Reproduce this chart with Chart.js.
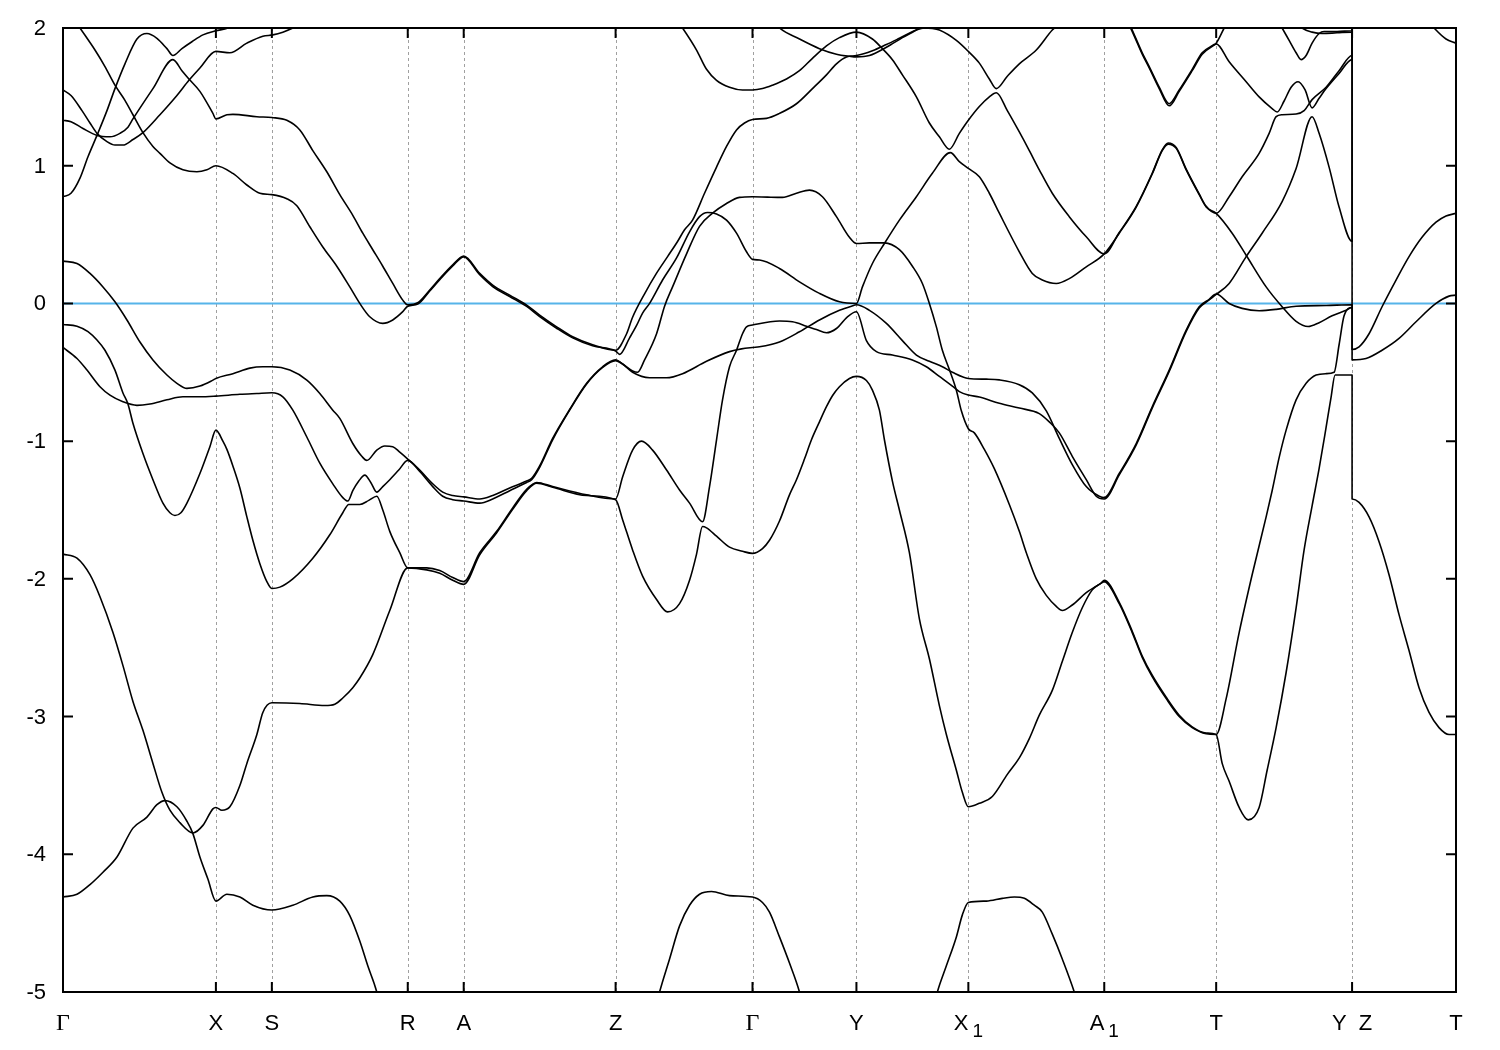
<!DOCTYPE html>
<html>
<head>
<meta charset="utf-8">
<title>Band structure</title>
<script src="https://cdn.jsdelivr.net/npm/chart.js@4.4.1/dist/chart.umd.min.js"></script>
<style>
  html, body { margin: 0; padding: 0; background: #fff; }
</style>
</head>
<body>
<canvas id="bandChart" width="1500" height="1050"></canvas>
<script>
// high-symmetry points along the k-path
const kTicks = [0, 153, 209, 345, 401, 553, 690, 794, 906, 1042, 1154, 1290, 1394];
const kLabels = ['Γ', 'X', 'S', 'R', 'A', 'Z', 'Γ', 'Y', 'X_1', 'A_1', 'T', 'Y  Z', 'T'];
const energyTicks = [2, 1, 0, -1, -2, -3, -4, -5];
const fermiLevel = 0;

// bands as [k, E] pairs
const band01 = [[0,0.775],[8,0.80],[17,0.91],[25,1.065],[34,1.22],[44,1.40],[52,1.56],[62,1.74],[74,1.92],[84,1.96],[94,1.925],[104,1.85],[110,1.80],[119,1.85],[129,1.90],[140,1.95],[153,1.98],[165,2.0],[180,2.08]];
const band02 = [[0,1.33],[8,1.32],[20,1.27],[34,1.22],[47,1.21],[57,1.235],[65,1.28],[70,1.34],[90,1.56],[110,1.77],[119,1.69],[126,1.63],[137,1.54],[150,1.38],[153,1.34],[164,1.37],[170,1.373],[194,1.356],[209,1.35],[224,1.33],[237,1.26],[250,1.11],[264,0.956],[277,0.79],[290,0.64],[300,0.51],[310,0.39],[320,0.27],[330,0.145],[340,0.024],[345,-0.01],[355,0.005],[367,0.097],[377,0.18],[390,0.28],[401,0.344],[417,0.218],[430,0.133],[447,0.06],[464,-0.012],[477,-0.085],[494,-0.17],[510,-0.242],[530,-0.30],[553,-0.34],[564,-0.22],[570,-0.10],[582,0.07],[594,0.22],[605,0.34],[615,0.45],[622,0.535],[630,0.605],[642,0.80],[654,0.99],[664,1.14],[674,1.26],[682,1.31],[690,1.335],[704,1.344],[717,1.38],[734,1.45],[750,1.56],[764,1.66],[774,1.74],[784,1.79],[794,1.80],[810,1.835],[824,1.88],[837,1.925],[854,1.985],[862,2.0],[870,1.997],[877,1.985],[894,1.91],[906,1.83],[917,1.745],[927,1.63],[934,1.56],[945,1.65],[957,1.74],[974,1.84],[990,1.985],[1000,2.05]];
const band03 = [[0,1.55],[8,1.51],[19,1.40],[27,1.31],[34,1.235],[44,1.175],[52,1.15],[60,1.15],[70,1.19],[80,1.24],[97,1.37],[114,1.51],[126,1.62],[137,1.71],[153,1.83],[167,1.82],[184,1.89],[200,1.94],[210,1.95],[220,1.97],[230,2.0],[245,2.06]];
const band04 = [[0,2.18],[17,2.0],[32,1.84],[42,1.72],[52,1.585],[62,1.475],[70,1.37],[80,1.24],[90,1.14],[97,1.09],[107,1.02],[120,0.97],[134,0.956],[144,0.97],[153,1.0],[170,0.944],[184,0.86],[197,0.80],[209,0.79],[224,0.76],[234,0.71],[247,0.557],[260,0.41],[274,0.27],[287,0.12],[297,0.0],[307,-0.097],[320,-0.145],[330,-0.12],[340,-0.06],[345,-0.02],[355,-0.005],[367,0.09],[377,0.172],[390,0.272],[401,0.338],[417,0.208],[430,0.123],[447,0.05],[464,-0.022],[477,-0.095],[494,-0.18],[510,-0.25],[530,-0.308],[553,-0.345],[557,-0.37],[567,-0.25],[574,-0.16],[580,-0.07],[587,0.0],[600,0.17],[614,0.33],[627,0.52],[637,0.63],[645,0.66],[654,0.65],[664,0.605],[674,0.51],[684,0.375],[690,0.32],[697,0.315],[717,0.254],[737,0.157],[757,0.073],[777,0.012],[794,0.0],[800,0.12],[810,0.29],[822,0.435],[837,0.605],[854,0.775],[870,0.945],[888,1.095],[897,1.03],[906,0.98],[917,0.92],[927,0.80],[937,0.655],[957,0.375],[970,0.218],[980,0.17],[994,0.145],[1007,0.18],[1024,0.266],[1042,0.36],[1057,0.51],[1074,0.70],[1090,0.94],[1100,1.11],[1106,1.157],[1114,1.126],[1124,0.97],[1137,0.79],[1144,0.70],[1154,0.654],[1170,0.51],[1184,0.35],[1204,0.12],[1220,-0.024],[1234,-0.13],[1246,-0.168],[1257,-0.14],[1270,-0.09],[1284,-0.05],[1290,-0.03],[1290,2.3]];
const band05 = [[0,0.307],[14,0.29],[27,0.218],[40,0.12],[52,0.012],[64,-0.12],[77,-0.28],[90,-0.41],[104,-0.52],[114,-0.58],[124,-0.617],[137,-0.60],[150,-0.557],[153,-0.545],[170,-0.51],[187,-0.47],[200,-0.46],[209,-0.46],[227,-0.484],[244,-0.557],[257,-0.654],[270,-0.775],[277,-0.835],[290,-1.017],[299,-1.11],[304,-1.14],[314,-1.065],[322,-1.035],[330,-1.04],[337,-1.08],[345,-1.13],[357,-1.21],[370,-1.31],[380,-1.37],[390,-1.395],[401,-1.405],[417,-1.42],[430,-1.395],[447,-1.34],[464,-1.29],[469,-1.27],[477,-1.18],[490,-0.98],[507,-0.77],[524,-0.58],[540,-0.46],[553,-0.41],[560,-0.44],[570,-0.49],[575,-0.50],[582,-0.41],[594,-0.22],[602,-0.02],[610,0.12],[624,0.36],[637,0.56],[650,0.655],[664,0.726],[677,0.77],[690,0.775],[705,0.772],[720,0.77],[734,0.80],[747,0.823],[760,0.775],[774,0.63],[787,0.48],[794,0.435],[807,0.44],[822,0.44],[837,0.39],[850,0.27],[860,0.145],[867,0.0],[874,-0.17],[880,-0.34],[887,-0.48],[894,-0.63],[899,-0.78],[906,-0.91],[912,-0.94],[922,-1.06],[932,-1.20],[947,-1.46],[957,-1.655],[964,-1.81],[974,-2.0],[984,-2.12],[994,-2.20],[1000,-2.23],[1010,-2.19],[1024,-2.10],[1037,-2.04],[1042,-2.02],[1057,-2.18],[1070,-2.39],[1080,-2.57],[1090,-2.71],[1104,-2.87],[1117,-3.0],[1130,-3.08],[1144,-3.125],[1154,-3.13],[1164,-2.87],[1177,-2.39],[1190,-1.97],[1204,-1.55],[1210,-1.36],[1217,-1.12],[1224,-0.92],[1234,-0.70],[1244,-0.58],[1254,-0.52],[1264,-0.51],[1272,-0.50],[1277,-0.30],[1282,-0.09],[1290,-0.03],[1290,-0.41],[1304,-0.40],[1320,-0.34],[1337,-0.254],[1354,-0.133],[1374,0.0],[1387,0.053],[1394,0.06]];
const band06 = [[0,-0.32],[14,-0.40],[24,-0.484],[37,-0.605],[47,-0.666],[60,-0.714],[74,-0.74],[87,-0.73],[104,-0.70],[120,-0.678],[137,-0.678],[153,-0.673],[177,-0.66],[194,-0.654],[209,-0.649],[220,-0.678],[230,-0.775],[244,-0.97],[257,-1.16],[270,-1.31],[280,-1.41],[285,-1.435],[290,-1.36],[296,-1.29],[302,-1.247],[308,-1.30],[314,-1.37],[320,-1.33],[327,-1.28],[336,-1.21],[345,-1.14],[357,-1.22],[370,-1.33],[380,-1.40],[390,-1.425],[401,-1.435],[417,-1.45],[430,-1.42],[447,-1.36],[464,-1.30],[469,-1.28],[477,-1.19],[490,-0.99],[507,-0.775],[524,-0.585],[540,-0.465],[553,-0.415],[560,-0.44],[570,-0.50],[587,-0.54],[604,-0.54],[620,-0.51],[644,-0.42],[667,-0.35],[679,-0.33],[690,-0.32],[697,-0.315],[717,-0.28],[737,-0.206],[757,-0.12],[777,-0.05],[789,-0.02],[794,-0.01],[807,-0.05],[824,-0.145],[840,-0.27],[854,-0.375],[867,-0.42],[880,-0.46],[890,-0.50],[906,-0.545],[924,-0.55],[937,-0.555],[957,-0.59],[970,-0.65],[984,-0.78],[997,-0.98],[1010,-1.17],[1024,-1.33],[1037,-1.40],[1042,-1.41],[1057,-1.235],[1074,-1.017],[1090,-0.75],[1107,-0.484],[1124,-0.194],[1137,-0.024],[1147,0.03],[1154,0.068],[1167,0.0],[1180,-0.036],[1197,-0.053],[1214,-0.043],[1234,-0.02],[1264,-0.015],[1290,-0.01],[1290,-0.334],[1297,-0.315],[1307,-0.22],[1320,-0.024],[1334,0.17],[1347,0.34],[1360,0.48],[1374,0.59],[1384,0.635],[1394,0.654]];
const band07 = [[0,-0.153],[14,-0.165],[25,-0.205],[34,-0.266],[42,-0.34],[52,-0.484],[60,-0.65],[65,-0.73],[70,-0.87],[80,-1.09],[90,-1.28],[100,-1.45],[107,-1.52],[112,-1.54],[118,-1.52],[124,-1.45],[137,-1.235],[147,-1.04],[153,-0.92],[160,-1.0],[164,-1.06],[170,-1.18],[177,-1.34],[184,-1.55],[190,-1.72],[197,-1.89],[204,-2.02],[209,-2.07],[217,-2.06],[230,-2.0],[250,-1.85],[267,-1.68],[280,-1.52],[286,-1.46],[297,-1.46],[306,-1.43],[314,-1.40],[320,-1.50],[327,-1.655],[337,-1.81],[345,-1.92],[364,-1.92],[377,-1.94],[390,-1.99],[401,-2.02],[417,-1.81],[434,-1.655],[450,-1.485],[464,-1.35],[474,-1.30],[490,-1.33],[524,-1.39],[553,-1.42],[560,-1.26],[570,-1.065],[579,-1.0],[590,-1.065],[604,-1.21],[617,-1.355],[627,-1.45],[640,-1.585],[647,-1.33],[654,-0.99],[660,-0.70],[667,-0.46],[674,-0.34],[680,-0.22],[684,-0.17],[690,-0.157],[717,-0.128],[730,-0.133],[744,-0.165],[754,-0.19],[764,-0.213],[774,-0.182],[785,-0.097],[794,-0.06],[804,-0.27],[814,-0.35],[830,-0.375],[850,-0.41],[864,-0.46],[877,-0.53],[890,-0.60],[897,-0.64],[906,-0.665],[917,-0.68],[937,-0.725],[957,-0.76],[977,-0.80],[987,-0.86],[997,-0.94],[1010,-1.11],[1024,-1.28],[1034,-1.40],[1042,-1.42],[1057,-1.245],[1074,-1.027],[1090,-0.76],[1107,-0.494],[1124,-0.204],[1137,-0.034],[1147,0.025],[1154,0.065],[1167,0.145],[1184,0.34],[1200,0.51],[1220,0.74],[1234,0.98],[1250,1.356],[1257,1.235],[1267,0.99],[1277,0.70],[1290,0.45],[1290,2.4]];
const band08 = [[0,-1.82],[14,-1.85],[27,-1.97],[37,-2.13],[50,-2.39],[60,-2.63],[70,-2.89],[80,-3.10],[90,-3.34],[99,-3.55],[107,-3.68],[117,-3.77],[130,-3.845],[140,-3.79],[150,-3.67],[153,-3.66],[159,-3.68],[167,-3.655],[177,-3.50],[184,-3.34],[194,-3.13],[200,-2.97],[209,-2.90],[237,-2.905],[262,-2.92],[272,-2.91],[280,-2.865],[290,-2.79],[297,-2.72],[310,-2.55],[327,-2.23],[345,-1.92],[364,-1.935],[377,-1.96],[390,-2.01],[401,-2.04],[417,-1.825],[434,-1.665],[450,-1.495],[464,-1.36],[474,-1.305],[490,-1.335],[524,-1.395],[553,-1.425],[560,-1.57],[570,-1.79],[580,-1.98],[594,-2.15],[605,-2.24],[617,-2.18],[627,-2.01],[634,-1.82],[640,-1.62],[644,-1.63],[654,-1.69],[667,-1.77],[680,-1.80],[690,-1.815],[700,-1.78],[707,-1.72],[717,-1.58],[727,-1.39],[734,-1.28],[742,-1.13],[749,-0.99],[757,-0.86],[764,-0.75],[770,-0.67],[777,-0.605],[787,-0.545],[794,-0.53],[804,-0.56],[810,-0.63],[817,-0.775],[822,-0.99],[830,-1.29],[837,-1.50],[847,-1.81],[857,-2.29],[867,-2.58],[877,-2.92],[884,-3.13],[894,-3.39],[900,-3.55],[906,-3.655],[917,-3.63],[930,-3.58],[945,-3.42],[957,-3.30],[967,-3.16],[977,-2.99],[990,-2.81],[1000,-2.60],[1010,-2.39],[1020,-2.21],[1030,-2.08],[1039,-2.03],[1042,-2.01],[1057,-2.17],[1070,-2.38],[1080,-2.56],[1090,-2.70],[1104,-2.86],[1117,-2.99],[1130,-3.075],[1144,-3.12],[1154,-3.13],[1160,-3.34],[1167,-3.47],[1177,-3.66],[1186,-3.75],[1197,-3.66],[1205,-3.39],[1214,-3.08],[1224,-2.68],[1234,-2.21],[1242,-1.79],[1250,-1.47],[1257,-1.20],[1264,-0.90],[1269,-0.68],[1273,-0.52],[1290,-0.52],[1290,-1.42],[1297,-1.445],[1307,-1.55],[1317,-1.73],[1327,-1.97],[1337,-2.26],[1347,-2.52],[1357,-2.79],[1367,-2.97],[1377,-3.08],[1387,-3.13],[1394,-3.13]];
const band09 = [[605,2.15],[612,2.08],[620,2.0],[634,1.84],[644,1.70],[654,1.62],[667,1.57],[680,1.55],[690,1.55],[700,1.56],[710,1.585],[724,1.63],[737,1.69],[750,1.78],[764,1.87],[777,1.93],[794,1.97],[810,1.92],[820,1.85],[830,1.77],[840,1.66],[854,1.50],[867,1.31],[877,1.21],[887,1.12],[897,1.235],[906,1.33],[917,1.43],[927,1.50],[934,1.53],[945,1.40],[957,1.245],[967,1.11],[977,0.97],[990,0.80],[1007,0.63],[1024,0.484],[1042,0.36],[1057,0.515],[1074,0.705],[1090,0.945],[1100,1.115],[1106,1.165],[1114,1.133],[1124,0.975],[1137,0.795],[1144,0.705],[1154,0.654],[1167,0.775],[1180,0.92],[1197,1.09],[1207,1.235],[1214,1.356],[1220,1.37],[1234,1.375],[1242,1.40],[1250,1.48],[1264,1.57],[1277,1.69],[1290,1.80],[1290,2.5]];
const band10 = [[705,2.1],[717,2.0],[737,1.92],[757,1.85],[774,1.81],[787,1.795],[794,1.79],[807,1.80],[824,1.86],[840,1.93],[857,2.0],[865,2.05]];
const band11 = [[1062,2.1],[1069,2.0],[1080,1.82],[1087,1.72],[1097,1.57],[1107,1.45],[1117,1.55],[1130,1.70],[1140,1.82],[1152,1.88],[1154,1.89],[1162,2.0],[1168,2.08]];
const band12 = [[1062,2.09],[1069,1.99],[1080,1.81],[1087,1.71],[1097,1.56],[1107,1.435],[1117,1.54],[1130,1.69],[1140,1.81],[1152,1.875],[1154,1.885],[1167,1.755],[1184,1.61],[1197,1.50],[1210,1.415],[1215,1.39],[1222,1.47],[1229,1.57],[1236,1.61],[1243,1.55],[1250,1.42],[1257,1.49],[1264,1.56],[1277,1.67],[1290,1.77],[1290,2.6]];
const band13 = [[1212,2.1],[1220,2.0],[1227,1.91],[1234,1.82],[1239,1.77],[1244,1.80],[1250,1.89],[1257,1.96],[1262,1.975],[1275,1.975],[1290,1.98],[1290,2.7]];
const band14 = [[1232,2.06],[1240,2.0],[1250,1.97],[1260,1.96],[1275,1.965],[1290,1.97],[1290,2.8]];
const band15 = [[1350,2.25],[1362,2.1],[1370,2.02],[1374,1.985],[1384,1.92],[1394,1.89]];
const band16 = [[0,-4.31],[14,-4.29],[27,-4.22],[40,-4.13],[54,-4.02],[70,-3.81],[84,-3.73],[94,-3.64],[102,-3.61],[114,-3.655],[124,-3.76],[130,-3.85],[137,-4.02],[145,-4.18],[153,-4.34],[164,-4.29],[177,-4.31],[190,-4.37],[209,-4.405],[230,-4.37],[250,-4.31],[264,-4.30],[277,-4.34],[287,-4.445],[297,-4.63],[305,-4.81],[314,-5.0],[320,-5.2]];
const band17 = [[590,-5.2],[597,-5.0],[607,-4.76],[617,-4.52],[627,-4.37],[637,-4.29],[649,-4.27],[667,-4.30],[690,-4.31],[700,-4.35],[707,-4.42],[717,-4.60],[727,-4.79],[737,-5.0],[742,-5.15]];
const band18 = [[870,-5.15],[875,-5.0],[884,-4.81],[894,-4.60],[900,-4.44],[906,-4.35],[924,-4.34],[940,-4.32],[952,-4.31],[962,-4.32],[972,-4.37],[980,-4.42],[990,-4.58],[1000,-4.76],[1012,-5.0],[1016,-5.1]];

const bands = [band01, band02, band03, band04, band05, band06, band07, band08, band09,
               band10, band11, band12, band13, band14, band15, band16, band17, band18];

const SANS = '"Liberation Sans", Arial, Helvetica, sans-serif';
const SERIF = '"Liberation Serif", "Times New Roman", serif';

// gnuplot style frame: dashed k-point lines, inward ticks, mirrored ticks, k labels
const gnuplotFrame = {
    id: 'gnuplotFrame',
    beforeDatasetsDraw(chart) {
        const { ctx, chartArea: a } = chart;
        const xs = chart.scales.x;
        ctx.save();
        ctx.strokeStyle = '#a0a0a0';
        ctx.lineWidth = 1;
        ctx.setLineDash([3, 3]);
        kTicks.slice(1, -1).forEach(k => {
            const px = Math.round(xs.getPixelForValue(k)) + 0.5;
            ctx.beginPath();
            ctx.moveTo(px, a.top);
            ctx.lineTo(px, a.bottom);
            ctx.stroke();
        });
        ctx.restore();
    },
    afterDatasetsDraw(chart) {
        const { ctx, chartArea: a } = chart;
        const xs = chart.scales.x;
        const ys = chart.scales.y;
        ctx.save();
        ctx.strokeStyle = '#000';
        ctx.lineWidth = 2;
        ctx.strokeRect(a.left, a.top, a.right - a.left, a.bottom - a.top);

        ctx.beginPath();
        kTicks.forEach(k => {
            const px = xs.getPixelForValue(k);
            ctx.moveTo(px, a.bottom);
            ctx.lineTo(px, a.bottom - 10);
            ctx.moveTo(px, a.top);
            ctx.lineTo(px, a.top + 10);
        });
        energyTicks.forEach(e => {
            const py = ys.getPixelForValue(e);
            ctx.moveTo(a.left, py);
            ctx.lineTo(a.left + 10, py);
            ctx.moveTo(a.right, py);
            ctx.lineTo(a.right - 10, py);
        });
        ctx.stroke();

        // energy labels on the left
        ctx.fillStyle = '#000';
        ctx.font = '22px ' + SANS;
        ctx.textAlign = 'right';
        ctx.textBaseline = 'middle';
        energyTicks.forEach(e => {
            ctx.fillText(String(e), a.left - 17, ys.getPixelForValue(e) + 1);
        });

        // k-point labels, "_" marks a subscript
        ctx.textAlign = 'left';
        ctx.textBaseline = 'alphabetic';
        const baseY = a.bottom + 38;
        kLabels.forEach((label, i) => {
            const [main, sub] = label.split('_');
            const mainFont = main === 'Γ' ? '24px ' + SERIF : '22px ' + SANS;
            const subFont = '19px ' + SANS;
            ctx.font = mainFont;
            const wMain = ctx.measureText(main).width;
            let wSub = 0;
            if (sub) {
                ctx.font = subFont;
                wSub = ctx.measureText(sub).width + 4;
            }
            const x0 = xs.getPixelForValue(kTicks[i]) - (wMain + wSub) / 2;
            ctx.font = mainFont;
            ctx.fillText(main, x0, baseY);
            if (sub) {
                ctx.font = subFont;
                ctx.fillText(sub, x0 + wMain + 4, baseY + 7);
            }
        });
        ctx.restore();
    }
};

document.addEventListener('DOMContentLoaded', function() {
    const ctx = document.getElementById('bandChart').getContext('2d');

    const datasets = bands.map((b, i) => ({
        label: 'band ' + (i + 1),
        data: b.map(p => ({ x: p[0], y: p[1] })),
        borderColor: '#000',
        borderWidth: 1.6,
        pointRadius: 0,
        fill: false,
        cubicInterpolationMode: 'monotone',
        order: 1
    }));

    // Fermi level, drawn underneath the bands
    datasets.push({
        label: 'E_F',
        data: [{ x: kTicks[0], y: fermiLevel }, { x: kTicks[kTicks.length - 1], y: fermiLevel }],
        borderColor: '#56b4e9',
        borderWidth: 2,
        pointRadius: 0,
        fill: false,
        order: 2
    });

    new Chart(ctx, {
        type: 'line',
        data: { datasets: datasets },
        options: {
            responsive: false,
            animation: false,
            devicePixelRatio: 1,
            layout: { padding: { top: 28, right: 44, left: 0, bottom: 0 } },
            elements: { line: { borderJoinStyle: 'round', borderCapStyle: 'round' } },
            plugins: {
                legend: { display: false },
                tooltip: { enabled: false }
            },
            scales: {
                x: {
                    type: 'linear',
                    min: kTicks[0],
                    max: kTicks[kTicks.length - 1],
                    grid: { display: false },
                    border: { display: false },
                    ticks: { display: false },
                    afterFit: function(scale) { scale.height = 58; }
                },
                y: {
                    type: 'linear',
                    min: -5,
                    max: 2,
                    afterBuildTicks: function(scale) {
                        scale.ticks = energyTicks.map(v => ({ value: v }));
                    },
                    grid: { display: false },
                    border: { display: false },
                    ticks: { display: false },
                    afterFit: function(scale) { scale.width = 63; }
                }
            }
        },
        plugins: [gnuplotFrame]
    });
});
</script>
</body>
</html>
